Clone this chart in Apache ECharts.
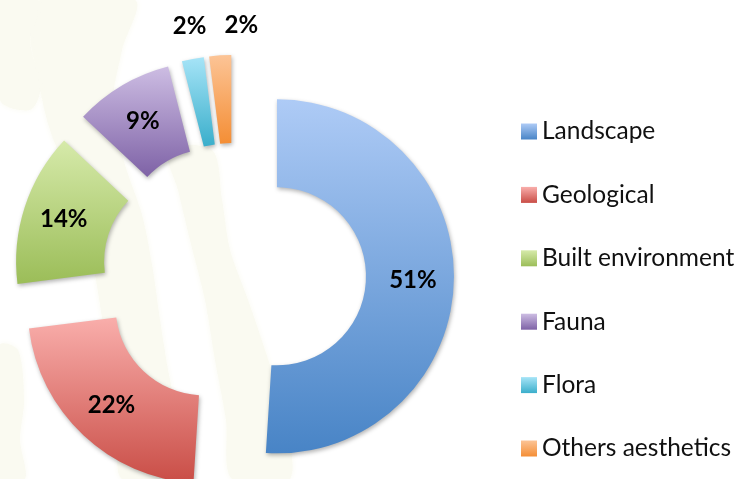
<!DOCTYPE html>
<html><head><meta charset="utf-8">
<script src="https://cdn.jsdelivr.net/npm/echarts@6/dist/echarts.min.js"></script>
<style>html,body{margin:0;padding:0;background:#fff}#c{width:742px;height:479px}</style>
</head><body><div id="c"></div>
<script>
const categories = ['Landscape','Geological','Built environment','Fauna','Flora','Others aesthetics'];
const values = [51, 22, 14, 9, 2, 2];
const topColors = ['#aecbf6','#f9aeab','#d6eaaa','#cdbde3','#a6e4f7','#fcc496'];
const bottomColors = ['#4884c6','#c94d46','#9bbd58','#7e62a6','#3aaecb','#f48e35'];
const smallLabelNudge = [null, null, null, null, [22, -15], [44, -12]];

// faint decorative background bands (watermark in the original slide)
const bands = [
  [[40,0],[135,0],[122,50],[112,110],[125,165],[142,215],[152,265],[160,320],[168,370],[178,420],[182,479],[122,479],[118,430],[112,380],[104,330],[96,280],[86,230],[70,180],[50,130],[38,80],[30,30]],
  [[168,150],[212,150],[222,200],[230,250],[248,300],[265,350],[280,400],[290,479],[232,479],[226,420],[215,360],[205,300],[190,240],[178,190]],
  [[0,0],[38,0],[30,40],[40,90],[30,110],[0,100]],
  [[0,345],[18,350],[24,400],[20,440],[25,479],[0,479]]
];

const chart = echarts.init(document.getElementById('c'));
const grad = (i) => new echarts.graphic.LinearGradient(0,0,0,1,[{offset:0,color:topColors[i]},{offset:1,color:bottomColors[i]}]);
const data = categories.map((n,i)=>{
  const d = {name:n, value:values[i], selected:true, itemStyle:{color:grad(i)}};
  if (i >= 4) {
    d.label = {position:'outside'};
    d.labelLine = {show:false, length:18, length2:0};
  }
  return d;
});
chart.setOption({
  animation:false,
  graphic: bands.map(pts => ({
    type:'polygon', z:-10, silent:true,
    shape:{points:pts, smooth:0.3},
    style:{fill:'#fafaf1', shadowBlur:6, shadowColor:'#fafaf1'}
  })),
  legend:{
    orient:'vertical', left:521, top:119, padding:0,
    itemWidth:16, itemHeight:16, itemGap:38.4,
    icon:'rect',
    textStyle:{fontFamily:'Lato', fontSize:24.5, color:'#111'},
    selectedMode:false,
    data:categories
  },
  series:[{
    type:'pie',
    center:[234,275],
    radius:[89,177],
    startAngle:90,
    clockwise:true,
    selectedMode:'multiple',
    selectedOffset:43,
    avoidLabelOverlap:false,
    label:{
      show:true, position:'inside',
      formatter: p => p.value + '%',
      fontFamily:'Lato', fontWeight:'bold', fontSize:24, color:'#000'
    },
    labelLayout: p => {
      const n = smallLabelNudge[p.dataIndex];
      return n ? {dx:n[0], dy:n[1], hideOverlap:false} : {hideOverlap:false};
    },
    itemStyle:{shadowBlur:4, shadowColor:'rgba(0,0,0,0.3)', shadowOffsetX:1, shadowOffsetY:2},
    emphasis:{disabled:true},
    data:data
  }]
});
</script></body></html>
